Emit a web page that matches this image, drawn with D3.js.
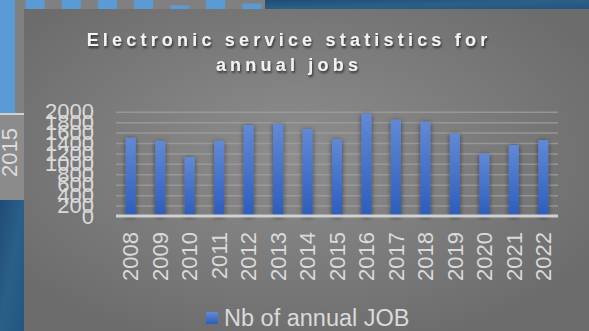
<!DOCTYPE html>
<html><head><meta charset="utf-8">
<script src="https://cdn.jsdelivr.net/npm/d3@7"></script>
<style>
html,body{margin:0;padding:0;background:#7a7a7a;overflow:hidden}
svg{display:block}
text{font-family:"Liberation Sans",Arial,sans-serif}
</style></head><body>
<script>
// ---- data ----
const years = ["2008","2009","2010","2011","2012","2013","2014","2015","2016","2017","2018","2019","2020","2021","2022"];
const jobs = [1500,1440,1130,1440,1745,1770,1668,1476,1962,1847,1808,1578,1195,1361,1457];
const yTicks = [0,200,400,600,800,1000,1200,1400,1600,1800,2000];
const titleLines = ["Electronic service statistics for","annual jobs"];
const seriesName = "Nb of annual JOB";
// decorative background (partial chart visible behind the panel)
const bgBarIdx = [0,1,2,3,4,5,6];
const bgBarVals = [10,10,10,10,4,10,6];
const bgLabel = "2015";

const W = 589, H = 331;
const svg = d3.select("body").append("svg").attr("width", W).attr("height", H);
const defs = svg.append("defs");

// gradients
const pg = defs.append("radialGradient").attr("id","panelGrad").attr("cx","48%").attr("cy","45%").attr("r","62%");
pg.append("stop").attr("offset","0%").attr("stop-color","#8e8e8e");
pg.append("stop").attr("offset","100%").attr("stop-color","#6c6c6c");
const bg = defs.append("linearGradient").attr("id","barGrad").attr("x1",0).attr("y1",0).attr("x2",0).attr("y2",1);
bg.append("stop").attr("offset","0%").attr("stop-color","#6189d6");
bg.append("stop").attr("offset","100%").attr("stop-color","#2c5dbd");
const blueGrad = defs.append("linearGradient").attr("id","blueGrad").attr("x1",0).attr("y1",0).attr("x2",1).attr("y2",1);
blueGrad.append("stop").attr("offset","0%").attr("stop-color","#1f4c78");
blueGrad.append("stop").attr("offset","50%").attr("stop-color","#2a6088");
blueGrad.append("stop").attr("offset","100%").attr("stop-color","#235580");
const sh = defs.append("filter").attr("id","barShadow").attr("x","-80%").attr("y","-10%").attr("width","260%").attr("height","125%");
sh.append("feDropShadow").attr("dx",0).attr("dy",1).attr("stdDeviation",2.5).attr("flood-color","#000").attr("flood-opacity",0.55);
const ts = defs.append("filter").attr("id","textShadow").attr("x","-10%").attr("y","-30%").attr("width","120%").attr("height","160%");
ts.append("feDropShadow").attr("dx",1).attr("dy",2).attr("stdDeviation",1.2).attr("flood-color","#000").attr("flood-opacity",0.6);

// ---- background behind the panel ----
svg.append("rect").attr("x",0).attr("y",0).attr("width",W).attr("height",H).attr("fill","#808080");
svg.append("rect").attr("x",265).attr("y",0).attr("width",W-265).attr("height",9).attr("fill","url(#blueGrad)");
const bgx = d3.scaleBand().domain(bgBarIdx).range([22,265]).paddingInner(0.47).paddingOuter(0.1);
const bgy = d3.scaleLinear().domain([0,10]).range([9,0]);
svg.selectAll("rect.bgbar").data(bgBarVals).join("rect").attr("class","bgbar")
  .attr("x",(d,i)=>bgx(bgBarIdx[i])).attr("width",bgx.bandwidth())
  .attr("y",d=>bgy(d)).attr("height",d=>9-bgy(d)).attr("fill","#5b9bd5");
svg.append("rect").attr("x",0).attr("y",0).attr("width",15).attr("height",113).attr("fill","#5b9bd5");
svg.append("rect").attr("x",0).attr("y",113).attr("width",24).attr("height",2).attr("fill","#d0d0d0");
svg.append("rect").attr("x",0).attr("y",115).attr("width",24).attr("height",85).attr("fill","#8b8b8b");
svg.append("rect").attr("x",0).attr("y",200).attr("width",24).attr("height",131).attr("fill","url(#blueGrad)");
svg.append("text").attr("transform","translate(17,128) rotate(-90)").attr("text-anchor","end")
  .attr("font-size",22).attr("fill","#dcdcdc").text(bgLabel);

// ---- panel ----
svg.append("rect").attr("x",24).attr("y",9).attr("width",W-24).attr("height",H-9).attr("fill","url(#panelGrad)");

// title
const title = svg.append("text").attr("text-anchor","middle").attr("font-size",18).attr("font-weight","bold")
  .attr("fill","#f2f2f2").attr("letter-spacing","4.2px").attr("filter","url(#textShadow)");
titleLines.forEach((t,i)=>title.append("tspan").attr("x",289).attr("y",46+i*25).text(t));

// scales
const x = d3.scaleBand().domain(years).range([116,558]).paddingInner(0.66).paddingOuter(0.33);
const y = d3.scaleLinear().domain([0,2000]).range([216,111.7]);

// gridlines
const grid = svg.append("g").attr("transform","translate(116,0)")
  .call(d3.axisLeft(y).tickValues(yTicks.filter(v=>v>0)).tickSize(-442).tickFormat(""));
grid.select(".domain").remove();
grid.selectAll("line").attr("stroke","#a0a0a0").attr("stroke-opacity",0.75).attr("stroke-width",1.5);

// bars
svg.append("g").selectAll("rect").data(jobs).join("rect")
  .attr("x",(d,i)=>x(years[i])).attr("width",x.bandwidth())
  .attr("y",d=>y(d)).attr("height",d=>y(0)-y(d))
  .attr("fill","url(#barGrad)").attr("filter","url(#barShadow)");

// baseline
svg.append("line").attr("x1",116).attr("x2",558).attr("y1",y(0)).attr("y2",y(0))
  .attr("stroke","#d0d0d0").attr("stroke-width",3);

// y axis labels
const ya = svg.append("g").attr("transform","translate(116,0)")
  .call(d3.axisLeft(y).tickValues(yTicks).tickSize(0).tickPadding(22).tickFormat(d3.format("d")));
ya.select(".domain").remove();
ya.selectAll("text").attr("font-size",22).attr("fill","#dadada").attr("font-family","Liberation Sans, Arial, sans-serif");

// x axis labels
const xa = svg.append("g").attr("transform",`translate(0,${y(0)})`)
  .call(d3.axisBottom(x).tickSize(0));
xa.select(".domain").remove();
xa.selectAll("text").attr("transform","rotate(-90)").attr("text-anchor","end")
  .attr("x",-16).attr("y",0).attr("dy","0.35em")
  .attr("font-size",22).attr("fill","#dadada").attr("font-family","Liberation Sans, Arial, sans-serif");

// legend
const lg = svg.append("g");
lg.append("rect").attr("x",206).attr("y",312).attr("width",12).attr("height",12).attr("fill","url(#barGrad)");
lg.append("text").attr("x",224).attr("y",326).attr("font-size",23.5).attr("fill","#dadada").text(seriesName);
</script>
</body></html>
